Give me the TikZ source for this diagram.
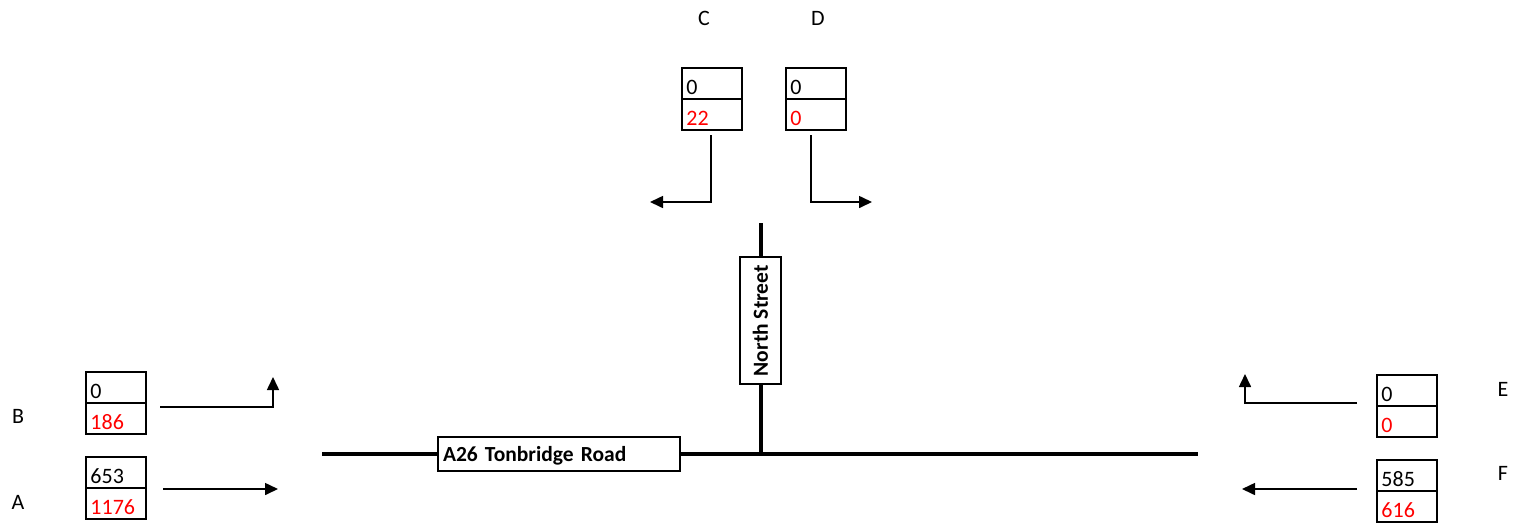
\documentclass[tikz,border=0pt]{standalone}
\usepackage{fontspec}
\setmainfont{Carlito}
\usetikzlibrary{arrows.meta}
\begin{document}
\begin{tikzpicture}[x=1pt,y=-1pt,
  font=\fontsize{22}{25}\selectfont,
  cell/.style={minimum width=59.5pt, minimum height=30.5pt,
    text width=51pt, inner xsep=4pt, inner ysep=0pt, align=left,
    text height=23pt, text depth=0pt, anchor=north west},
  redcell/.style={cell, text=red},
  boxline/.style={line width=1.6pt},
  lettr/.style={inner sep=0pt, text height=14pt, text depth=0pt, anchor=center},
  arr/.style={line width=1.6pt, -{Triangle[length=13pt,width=12pt]}},
  road/.style={line width=4pt},
  roadlabel/.style={draw, fill=white, line width=1.6pt, inner sep=0pt, font=\fontsize{21.5}{25}\selectfont\bfseries}
]
\useasboundingbox (0,0) rectangle (1520,523);

% roads
\coordinate (w) at (322,454);
\coordinate (e) at (1198,454);
\coordinate (j) at (761,454);
\coordinate (n) at (761,223);
\draw[road] (w) -- (e);
\draw[road] (n) -- (j);
\node[roadlabel, minimum width=242pt, minimum height=34pt, text width=232pt, align=left,
  text height=14.5pt, text depth=0pt] (a26) at (559,454) {A26 Tonbridge Road};
\node[roadlabel, rotate=90, minimum width=127pt, minimum height=41pt,
  text height=14.5pt, text depth=0pt] (ns) at (760.5,320.7) {North Street};

% boxes
\node[cell] (Ct) at (682,68) {0};
\node[redcell] (Cb) at (Ct.south west) {22};
\node[cell] (Dt) at (786,68) {0};
\node[redcell] (Db) at (Dt.south west) {0};
\node[cell] (Bt) at (86,372) {0};
\node[redcell] (Bb) at (Bt.south west) {186};
\node[cell] (At) at (86,457) {653};
\node[redcell] (Ab) at (At.south west) {1176};
\node[cell] (Et) at (1377,375) {0};
\node[redcell] (Eb) at (Et.south west) {0};
\node[cell] (Ft) at (1377,460) {585};
\node[redcell] (Fb) at (Ft.south west) {616};
\foreach \b in {C,D,B,A,E,F}{
  \draw[boxline] (\b t.north west) rectangle (\b b.south east);
  \draw[boxline] (\b t.south west) -- (\b t.south east);
}

% letters
\node[lettr] (lC) at (704,18) {C};
\node[lettr] (lD) at (818,18) {D};
\node[lettr] (lB) at (18,416) {B};
\node[lettr] (lA) at (18,502) {A};
\node[lettr] (lE) at (1503,389) {E};
\node[lettr] (lF) at (1503,473) {F};

% arrows
\coordinate (c1) at (711,135); \coordinate (c2) at (650,202);
\coordinate (d1) at (811,135); \coordinate (d2) at (872,202);
\coordinate (b1) at (160,407); \coordinate (b2) at (273,377);
\coordinate (a1) at (163,489); \coordinate (a2) at (278,489);
\coordinate (e1) at (1357,403); \coordinate (e2) at (1245,374);
\coordinate (f1) at (1357,489); \coordinate (f2) at (1242,489);
\draw[arr] (c1) |- (c2);
\draw[arr] (d1) |- (d2);
\draw[arr] (b1) -| (b2);
\draw[arr] (a1) -- (a2);
\draw[arr] (e1) -| (e2);
\draw[arr] (f1) -- (f2);
\end{tikzpicture}
\end{document}
